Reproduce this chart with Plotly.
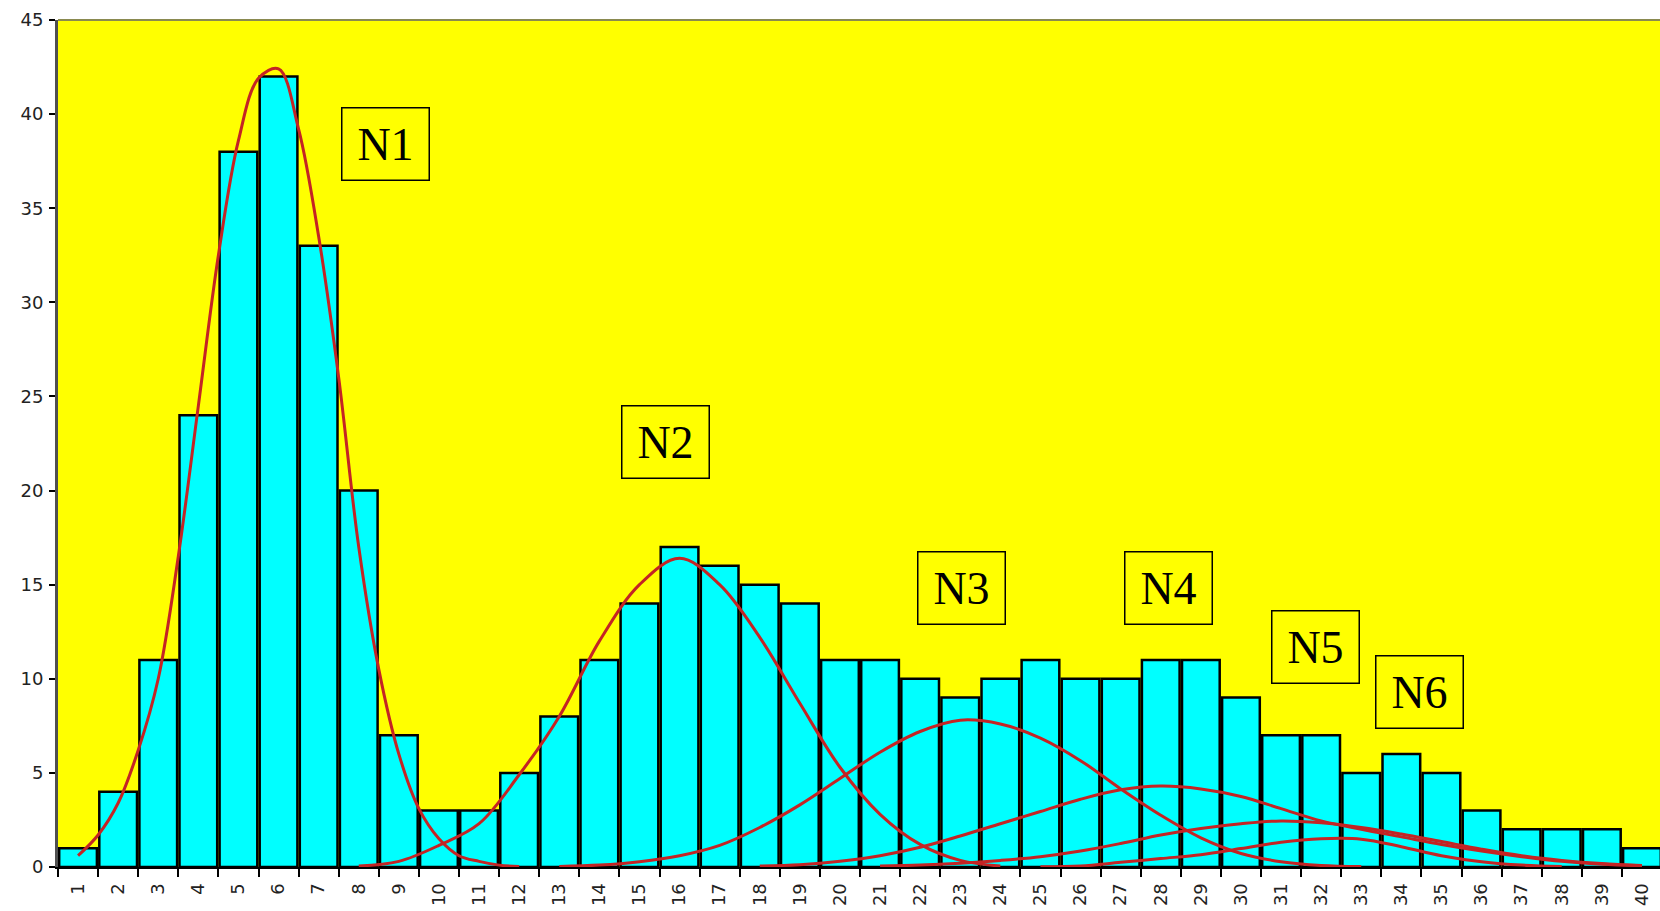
import plotly.graph_objects as go

# ---------------- data ----------------
categories = list(range(1, 41))
category_labels = [str(c) for c in categories]
counts = [1, 4, 11, 24, 38, 42, 33, 20, 7, 3,
          3, 5, 8, 11, 14, 17, 16, 15, 14, 11,
          11, 10, 9, 10, 11, 10, 10, 11, 11, 9,
          7, 7, 5, 6, 5, 3, 2, 2, 2, 1]

# fitted component curves
n1_x = [1, 1.5, 2, 2.5, 3, 3.5, 4, 4.5, 5, 5.5, 6, 6.5, 7, 7.5, 8, 8.5, 9, 9.5, 10, 10.5, 11, 11.5, 12]
n1_y = [0.6, 1.7, 3.4, 6.2, 10.0, 16.5, 24.5, 32.5, 38.6, 41.9, 42.4, 39.2, 33.5, 26.0, 17.0, 10.5, 6.0, 3.1, 1.5, 0.6, 0.3, 0.1, 0.03]

n2_x = [8, 9, 10, 11, 12, 13, 14, 15, 16, 17, 18, 19, 20, 21, 22, 23, 24]
n2_y = [0.05, 0.3, 1.15, 2.3, 4.9, 8.0, 12.0, 15.0, 16.4, 15.0, 12.2, 8.7, 5.3, 2.8, 1.2, 0.35, 0.05]

n3_x = [13, 14, 15, 16, 17, 18, 19, 20, 21, 22, 23, 24, 25, 26, 27, 28, 29, 30, 31, 32, 33]
n3_y = [0.03, 0.1, 0.28, 0.6, 1.15, 2.1, 3.3, 4.7, 6.1, 7.2, 7.8, 7.6, 6.85, 5.65, 4.15, 2.75, 1.55, 0.72, 0.28, 0.08, 0.02]

n4_x = [18, 19, 20, 21, 22, 23, 24, 25, 26, 27, 28, 29, 30, 31, 32, 33, 34, 35, 36, 37, 38, 39, 40]
n4_y = [0.05, 0.12, 0.3, 0.6, 1.05, 1.65, 2.3, 2.95, 3.6, 4.1, 4.3, 4.15, 3.75, 3.1, 2.45, 2.0, 1.6, 1.2, 0.85, 0.55, 0.3, 0.15, 0.07]

n5_x = [21, 22, 23, 24, 25, 26, 27, 28, 29, 30, 31, 32, 33, 34, 35, 36, 37, 38, 39, 40]
n5_y = [0.05, 0.1, 0.2, 0.35, 0.55, 0.85, 1.25, 1.7, 2.05, 2.3, 2.45, 2.35, 2.1, 1.75, 1.35, 0.95, 0.6, 0.35, 0.18, 0.08]

n6_x = [25, 26, 27, 28, 29, 30, 31, 32, 33, 34, 35, 36, 37, 38]
n6_y = [0.01, 0.05, 0.25, 0.45, 0.65, 0.98, 1.32, 1.5, 1.48, 1.08, 0.6, 0.28, 0.1, 0.03]

labels = ["N1", "N2", "N3", "N4", "N5", "N6"]
label_x = [8.67, 15.65, 23.02, 28.19, 31.87, 34.46]
label_y = [38.4, 22.6, 14.8, 14.8, 11.7, 9.3]

y_ticks = [0, 5, 10, 15, 20, 25, 30, 35, 40, 45]

# ---------------- figure ----------------
fig = go.Figure()

fig.add_trace(go.Bar(
    x=categories, y=counts,
    marker=dict(color="#00FFFF", line=dict(color="#000000", width=2.5)),
    showlegend=False, hoverinfo="x+y",
))

curve_color = "#C42424"
for cx, cy in [(n1_x, n1_y), (n2_x, n2_y), (n3_x, n3_y),
               (n4_x, n4_y), (n5_x, n5_y), (n6_x, n6_y)]:
    fig.add_trace(go.Scatter(
        x=cx, y=cy, mode="lines",
        line=dict(color=curve_color, width=3, shape="spline", smoothing=1.0),
        showlegend=False,
    ))

for txt, lx, ly in zip(labels, label_x, label_y):
    fig.add_annotation(
        x=lx, y=ly, xref="x", yref="y", text=txt, showarrow=False,
        font=dict(family="Liberation Serif", size=46, color="#000000"),
        bordercolor="#000000", borderwidth=1.5, borderpad=0,
        width=86, height=71, bgcolor="rgba(0,0,0,0)",
    )

fig.update_layout(
    width=1660, height=911, autosize=False,
    margin=dict(l=58, r=0, t=20, b=44, autoexpand=False),
    paper_bgcolor="#FFFFFF",
    plot_bgcolor="#FFFF00",
    bargap=0.06,
    font=dict(family="DejaVu Sans", color="#222222"),
)

fig.update_xaxes(
    automargin=False,
    range=[0.5, 40.45],
    tickmode="array", tickvals=categories, ticktext=category_labels,
    tickangle=-90, ticks="", tickfont=dict(family="DejaVu Sans", size=18, color="#222222"),
    ticklabelstandoff=7,
    minor=dict(tick0=0.5, dtick=1, ticks="outside", ticklen=8,
               tickwidth=1.5, tickcolor="#000000", showgrid=False),
    showgrid=False, zeroline=False,
    showline=True, linecolor="#000000", linewidth=2, mirror=False,
)

fig.update_yaxes(
    automargin=False,
    range=[0, 45],
    tickmode="array", tickvals=y_ticks,
    ticks="outside", ticklen=6, tickwidth=1.5, tickcolor="#000000",
    tickfont=dict(family="DejaVu Sans", size=18, color="#222222"),
    ticklabelstandoff=2,
    showgrid=False, zeroline=False,
    showline=True, linecolor="#505050", linewidth=3, mirror=False,
)

# top border of plot area
fig.add_shape(type="line", xref="paper", yref="paper", x0=0, x1=1, y0=1, y1=1,
              line=dict(color="#8a8a50", width=2))

fig.write_html(
    "out.html",
    config={"displayModeBar": False},
    post_script="document.body.style.margin='0';document.body.style.overflow='hidden';",
)
